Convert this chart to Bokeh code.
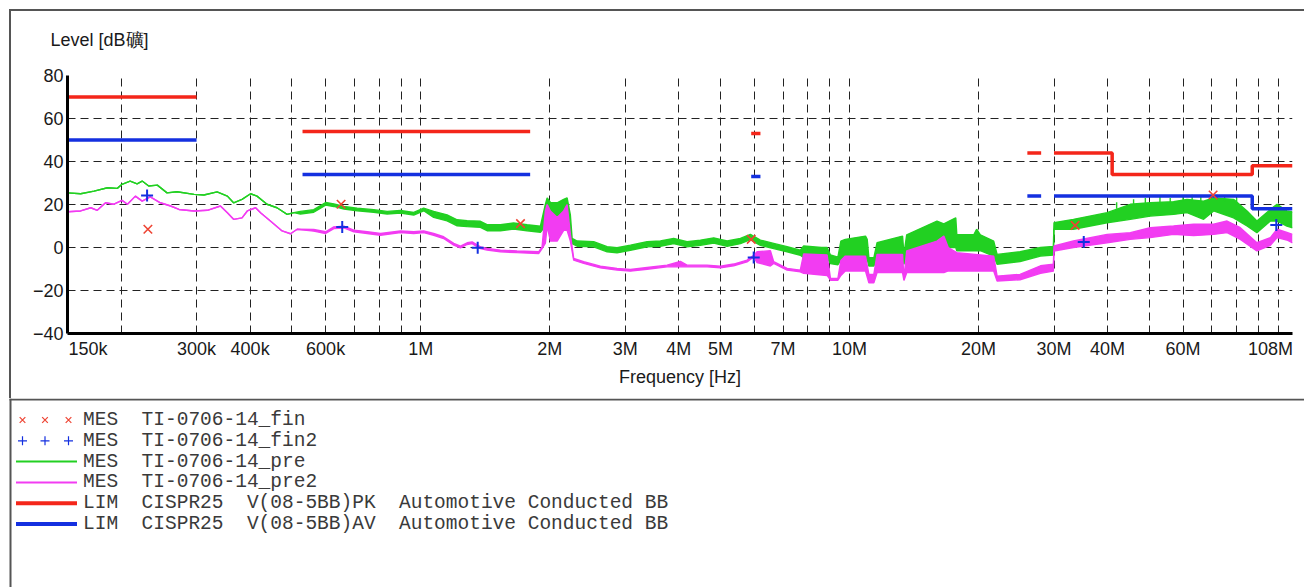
import numpy as np
from bokeh.plotting import figure
from bokeh.models import Range1d, FixedTicker, Title, ColumnDataSource
from bokeh.core.properties import value
from bokeh.embed import file_html
from bokeh.resources import INLINE

# ---------------- data (frequencies in MHz, levels in dBuV) ----------------
# pre-scan peak trace: upper / lower envelope of the noisy sweep
pre_f = [0.150, 0.161, 0.173, 0.186, 0.196, 0.201, 0.210, 0.218, 0.224, 0.232,
         0.243, 0.256, 0.270, 0.296, 0.312, 0.335, 0.354, 0.366, 0.383, 0.401,
         0.415, 0.438, 0.462, 0.488, 0.506, 0.524, 0.563, 0.600, 0.627, 0.662,
         0.711, 0.777, 0.835, 0.897, 0.963, 1.016, 1.072, 1.152, 1.216, 1.283,
         1.378, 1.428, 1.534, 1.647, 1.770, 1.902, 1.953, 1.972, 2.007, 2.081,
         2.155, 2.195, 2.234, 2.255, 2.316, 2.532, 2.721, 2.870, 3.084, 3.373,
         3.622, 3.891, 4.180, 4.491, 4.824, 5.184, 5.567, 5.874, 6.198, 6.657,
         7.155, 7.680, 7.820, 8.600, 8.870, 9.030, 9.400, 9.550, 9.780, 10.90,
         11.00, 11.10, 11.40, 11.60, 13.30, 13.40, 13.60, 16.00, 16.60, 17.70,
         17.80, 19.50, 19.80, 20.20, 21.70, 22.10, 25.00, 27.90, 29.90, 30.00,
         33.30, 39.90, 45.20, 50.30, 57.00, 61.30, 67.00, 70.70, 78.70, 84.60,
         89.20, 95.90, 99.40, 104.8, 108.0]
pre_hi = [25.4, 25.0, 26.2, 27.8, 27.5, 29.4, 30.9, 29.6, 30.9, 28.6,
          29.0, 25.4, 25.9, 24.7, 24.4, 25.9, 23.9, 20.8, 22.4, 25.0,
          23.9, 20.1, 18.5, 15.4, 16.2, 16.8, 17.6, 20.9, 20.3, 19.1,
          18.3, 17.6, 16.8, 17.2, 16.3, 18.3, 16.8, 15.2, 12.9, 12.5,
          12.2, 10.6, 10.6, 11.4, 10.6, 9.9, 20.0, 23.1, 21.0, 20.8,
          22.4, 23.1, 15.0, 4.2, 3.0, 2.7, 0.4, -0.1, 1.1, 2.7,
          3.0, 4.2, 2.7, 3.4, 4.5, 3.0, 4.2, 6.1, 3.4, 1.9,
          0.4, -1.2, 0.7, 0.0, 0.0, -3.5, -4.5, 3.0, 3.8, 5.3,
          3.8, -4.8, -4.8, 2.2, 5.3, -3.2, 5.9, 12.3, 11.0, 13.8,
          5.9, 5.9, 8.5, 5.9, 3.0, -3.2, -2.0, 0.0, 0.5, 11.5,
          13.1, 16.2, 20.1, 20.8, 21.3, 22.4, 21.5, 23.1, 22.4, 17.0,
          12.3, 17.7, 20.1, 17.0, 16.5]
pre_lo = [25.4, 25.0, 26.2, 27.8, 27.5, 29.4, 30.9, 29.6, 30.9, 28.6,
          29.0, 25.4, 25.9, 24.7, 24.4, 25.9, 23.9, 20.8, 22.4, 25.0,
          23.9, 20.1, 18.5, 15.4, 16.2, 15.6, 16.4, 19.7, 19.1, 17.9,
          17.1, 16.4, 15.6, 16.0, 15.1, 17.1, 14.0, 12.4, 10.1, 9.7,
          9.4, 7.8, 7.8, 8.6, 7.8, 7.1, 10.0, 14.0, 15.0, 14.0,
          15.0, 16.0, 8.0, 1.8, 0.6, 0.3, -2.0, -2.5, -1.3, 0.3,
          0.6, 1.8, 0.3, 1.0, 2.1, 0.6, 1.8, 3.7, 1.0, -0.5,
          -2.0, -3.6, -4.7, -5.0, -5.0, -7.5, -8.0, -6.0, -5.5, -5.5,
          -5.5, -8.6, -8.6, -5.5, -5.5, -7.8, -3.2, -1.5, 0.0, 0.0,
          -1.5, -1.5, -1.5, -1.5, -4.0, -7.8, -6.5, -4.0, -3.5, 8.5,
          8.5, 11.5, 13.1, 14.6, 15.4, 16.2, 13.1, 17.0, 13.8, 10.0,
          6.9, 12.3, 12.3, 10.0, 9.2]

# narrow peaks standing out of the pre-scan above 40 MHz
pre_spike_f = [42.0, 46.0, 49.0, 53.0, 56.0, 60.0, 63.0, 66.0, 72.0, 75.0, 80.0]
pre_spike_top = [21.0, 22.5, 23.0, 23.5, 23.0, 24.0, 24.5, 23.5, 24.5, 24.0, 23.0]
pre_spike_base = [18.0, 19.5, 20.5, 21.0, 21.0, 21.5, 22.0, 21.5, 22.0, 21.5, 20.0]

# second pre-scan trace
pre2_f = [0.150, 0.161, 0.170, 0.176, 0.184, 0.192, 0.201, 0.207, 0.216, 0.224,
          0.234, 0.247, 0.261, 0.273, 0.296, 0.318, 0.341, 0.354, 0.366, 0.383,
          0.394, 0.412, 0.423, 0.446, 0.475, 0.497, 0.515, 0.563, 0.600, 0.627,
          0.662, 0.698, 0.750, 0.806, 0.897, 0.963, 1.016, 1.072, 1.131, 1.194,
          1.238, 1.283, 1.318, 1.378, 1.428, 1.534, 1.677, 1.884, 1.919, 1.953,
          1.972, 2.007, 2.081, 2.155, 2.195, 2.234, 2.274, 2.400, 2.625, 2.870,
          3.084, 3.373, 3.755, 4.033, 4.180, 4.655, 5.000, 5.370, 5.770, 5.979,
          6.089, 6.540, 6.657, 7.155, 7.680, 7.820, 8.870, 9.030, 9.400, 9.550,
          9.780, 10.90, 11.10, 11.40, 11.60, 13.30, 13.40, 13.60, 16.00, 16.60,
          17.00, 17.80, 21.70, 22.10, 25.00, 27.90, 29.90, 30.00, 33.30, 39.90,
          45.20, 50.30, 57.00, 63.50, 70.70, 76.00, 81.60, 89.20, 95.90, 99.40,
          104.8, 108.0]
pre2_hi = [16.6, 17.0, 18.5, 17.3, 20.8, 20.1, 21.9, 20.1, 23.9, 21.6,
           23.5, 20.8, 19.3, 17.7, 17.0, 17.3, 19.3, 16.2, 13.1, 13.8,
           17.0, 18.5, 16.2, 12.3, 7.7, 6.4, 8.5, 8.4, 7.3, 9.6,
           9.9, 8.1, 7.3, 6.5, 7.7, 7.3, 7.7, 6.5, 5.0, 1.9,
           0.6, 2.2, 2.6, 0.3, -0.4, -1.2, -1.6, -2.0, 0.3, 17.0,
           20.0, 17.0, 14.0, 17.0, 20.0, 6.1, -5.1, -6.6, -8.7, -9.7,
           -10.2, -9.3, -8.2, -6.5, -8.2, -8.2, -8.7, -7.7, -5.9, -3.6,
           -2.0, -1.5, -6.6, -9.7, -10.5, -3.0, -3.5, -14.4, -14.4, -6.0,
           -4.0, -4.0, -12.5, -12.5, -3.2, -3.2, -14.3, -1.6, 3.0, 5.3,
           0.0, -2.4, -4.0, -13.3, -12.5, -8.5, -7.8, 0.7, 3.0, 6.1,
           6.9, 9.2, 10.0, 10.8, 10.8, 12.3, 9.2, 2.2, 4.6, 8.5,
           7.0, 6.1]
pre2_lo = [16.6, 17.0, 18.5, 17.3, 20.8, 20.1, 21.9, 20.1, 23.9, 21.6,
           23.5, 20.8, 19.3, 17.7, 17.0, 17.3, 19.3, 16.2, 13.1, 13.8,
           17.0, 18.5, 16.2, 12.3, 7.7, 6.4, 8.5, 7.6, 6.5, 8.8,
           9.1, 7.3, 6.5, 5.7, 6.9, 6.5, 6.9, 5.7, 4.2, 1.1,
           -0.2, 1.4, 1.8, -0.5, -1.2, -2.0, -2.4, -2.8, -0.5, 2.0,
           10.0, 3.0, 3.0, 8.0, 8.0, 3.0, -5.9, -7.4, -9.5, -10.5,
           -11.0, -10.1, -9.0, -9.0, -9.0, -9.0, -9.5, -8.5, -6.7, -4.4,
           -7.0, -8.6, -7.4, -10.5, -11.3, -12.0, -13.0, -15.2, -15.2, -13.0,
           -10.9, -10.9, -16.4, -16.4, -11.7, -11.7, -15.3, -11.7, -11.7, -11.7,
           -10.9, -10.9, -10.9, -15.6, -15.0, -12.0, -11.0, -1.6, 0.0, 2.2,
           3.8, 4.6, 6.1, 5.5, 6.1, 6.9, 3.8, -1.6, 1.0, 4.6,
           3.5, 2.2]

# final measurements
fin_f = [0.231, 0.652, 1.709, 5.90, 33.6, 70.5]
fin_level = [8.5, 20.1, 11.1, 3.8, 10.3, 24.4]
fin2_f = [0.230, 0.656, 1.358, 5.98, 35.2, 99.0]
fin2_level = [24.2, 9.5, -0.1, -4.7, 2.6, 10.5]

# CISPR 25 limit lines (NaN separates the bands)
nan = float("nan")
lim_pk_f = [0.15, 0.30, nan, 0.53, 1.8, nan, 5.9, 6.2, nan, 26.0, 28.0, nan,
            30.0, 41.0, 41.0, 87.0, 87.0, 108.0]
lim_pk_level = [70, 70, nan, 54, 54, nan, 53, 53, nan, 44, 44, nan,
                44, 44, 34, 34, 38, 38]
lim_av_f = [0.15, 0.30, nan, 0.53, 1.8, nan, 5.9, 6.2, nan, 26.0, 28.0, nan,
            30.0, 87.0, 87.0, 108.0]
lim_av_level = [50, 50, nan, 34, 34, nan, 33, 33, nan, 24, 24, nan,
                24, 24, 18, 18]

# axis: grid positions and labelled frequencies
grid_mhz = [0.15, 0.2, 0.3, 0.4, 0.5, 0.6, 0.7, 0.8, 0.9, 1, 2, 3, 4, 5, 6, 7, 8, 9,
            10, 20, 30, 40, 50, 60, 70, 80, 90, 100, 108]
tick_labels = ["150k", "300k", "400k", "600k", "1M", "2M", "3M", "4M", "5M", "7M",
               "10M", "20M", "30M", "40M", "60M", "108M"]
# label anchors; the two end labels sit inside the plot edges
tick_anchor_mhz = [0.1674, 0.3, 0.4, 0.6, 1, 2, 3, 4, 5, 7, 10, 20, 30, 40, 60, 96.0]
y_ticks = [-40, -20, 0, 20, 40, 60, 80]

legend_rows = [
    ["MES", "TI-0706-14_fin"],
    ["MES", "TI-0706-14_fin2"],
    ["MES", "TI-0706-14_pre"],
    ["MES", "TI-0706-14_pre2"],
    ["LIM", "CISPR25", "V(08-5BB)PK", "Automotive Conducted BB"],
    ["LIM", "CISPR25", "V(08-5BB)AV", "Automotive Conducted BB"],
]
legend_cols = [0, 5, 14, 27]

# ---------------- styling ----------------
GREEN = "#22d022"
MAGENTA = "#f23cf2"
RED = "#f4261a"
BLUE = "#1430e0"
XRED = "#ee4433"
FRAME = "#555555"
SANS = "Liberation Sans"
MONO = "Liberation Mono"


def hz(values):
    return np.array(values, dtype=float) * 1e6


frame_css = ("linear-gradient(#555555,#555555) 9px 9px / 1295px 2px no-repeat, "
             "linear-gradient(#555555,#555555) 9px 9px / 2px 389px no-repeat, white")

p = figure(width=1304, height=398, x_axis_type="log",
           x_range=Range1d(150e3, 108e6), y_range=Range1d(-40, 80),
           output_backend="svg", toolbar_location=None,
           min_border_left=67, min_border_right=12, min_border_top=75,
           min_border_bottom=65, styles={"background": frame_css})
p.outline_line_color = None
p.background_fill_color = "white"
p.border_fill_alpha = 0

anchor_hz = [int(round(v * 1e6)) for v in tick_anchor_mhz]
p.xaxis.ticker = FixedTicker(ticks=anchor_hz, minor_ticks=[])
p.xaxis.major_label_overrides = dict(zip(anchor_hz, tick_labels))
p.xgrid.ticker = FixedTicker(ticks=[int(round(v * 1e6)) for v in grid_mhz], minor_ticks=[])
p.yaxis.ticker = FixedTicker(ticks=y_ticks, minor_ticks=[])

for ax in (p.xaxis[0], p.yaxis[0]):
    ax.axis_line_width = 3
    ax.axis_line_color = "black"
    ax.major_tick_line_color = None
    ax.minor_tick_line_color = None
    ax.major_tick_out = 0
    ax.major_tick_in = 0
    ax.major_label_text_font = SANS
    ax.major_label_text_font_size = "18px"
    ax.major_label_text_color = "#1a1a1a"
p.yaxis.major_label_standoff = 4
p.xaxis.major_label_standoff = 5
p.xaxis.axis_label = "Frequency [Hz]"
p.xaxis.axis_label_text_font = SANS
p.xaxis.axis_label_text_font_size = "18px"
p.xaxis.axis_label_text_font_style = "normal"
p.xaxis.axis_label_text_color = "#1a1a1a"
p.xaxis.axis_label_standoff = 5

for g in (p.xgrid[0], p.ygrid[0]):
    g.grid_line_color = "#222222"
    g.grid_line_width = 1
    g.grid_line_dash = "8 5"

p.add_layout(Title(text="Level [dB礦]", align="left", offset=-17, standoff=52,
                   text_font=SANS, text_font_size="18px", text_font_style="normal",
                   text_color="#1a1a1a"), "above")

# pre-scan traces
pre_src = ColumnDataSource(dict(f=hz(pre_f), hi=pre_hi, lo=pre_lo))
p.varea(x="f", y1="lo", y2="hi", source=pre_src, fill_color=GREEN)
p.line("f", "hi", source=pre_src, line_color=GREEN, line_width=1.4)
p.line("f", "lo", source=pre_src, line_color=GREEN, line_width=1.4)
p.segment(x0=hz(pre_spike_f), y0=pre_spike_base, x1=hz(pre_spike_f), y1=pre_spike_top,
          line_color=GREEN, line_width=1.4)

pre2_src = ColumnDataSource(dict(f=hz(pre2_f), hi=pre2_hi, lo=pre2_lo))
p.varea(x="f", y1="lo", y2="hi", source=pre2_src, fill_color=MAGENTA)
p.line("f", "hi", source=pre2_src, line_color=MAGENTA, line_width=1.4)
p.line("f", "lo", source=pre2_src, line_color=MAGENTA, line_width=1.4)

# limits
p.line(hz(lim_pk_f), lim_pk_level, line_color=RED, line_width=3.5)
p.line(hz(lim_av_f), lim_av_level, line_color=BLUE, line_width=3.5)

# final measurement markers
p.scatter(hz(fin_f), fin_level, marker="x", size=12, line_color=XRED, line_width=1.6)
p.scatter(hz(fin2_f), fin2_level, marker="cross", size=12, line_color=BLUE, line_width=2)

# ---------------- legend panel ----------------
leg = figure(width=1304, height=189, x_range=Range1d(0, 1304), y_range=Range1d(189, 0),
             output_backend="svg", toolbar_location=None, min_border=0,
             x_axis_location=None, y_axis_location=None)
leg.outline_line_color = None
leg.grid.visible = False
leg.background_fill_color = "white"
leg.border_fill_color = "white"

leg.segment(x0=[9, 10], y0=[1, 0], x1=[1304, 10], y1=[1, 189],
            line_color=FRAME, line_width=2)

row_y = [21.5 + 20.8 * i for i in range(len(legend_rows))]
sample_x = [22.0, 44.5, 68.0]
leg.scatter(sample_x, [row_y[0]] * 3, marker="x", size=8, line_color=XRED, line_width=1.2)
leg.scatter(sample_x, [row_y[1]] * 3, marker="cross", size=9, line_color=BLUE, line_width=1.2)
sample_styles = [(GREEN, 2), (MAGENTA, 2), (RED, 4), (BLUE, 4)]
for i, (col, w) in enumerate(sample_styles):
    leg.line([15.5, 76.5], [row_y[i + 2]] * 2, line_color=col, line_width=w)

char_w = 11.7
tx, ty, tt = [], [], []
for i, row in enumerate(legend_rows):
    for j, txt in enumerate(row):
        tx.append(82.6 + legend_cols[j] * char_w)
        ty.append(row_y[i])
        tt.append(txt)
leg.text(x=tx, y=ty, text=tt, text_font=value(MONO), text_font_size=value("19.5px"),
         text_baseline="middle", text_color="#3a3a3a")

open("out.html", "w").write(file_html([p, leg], INLINE))
